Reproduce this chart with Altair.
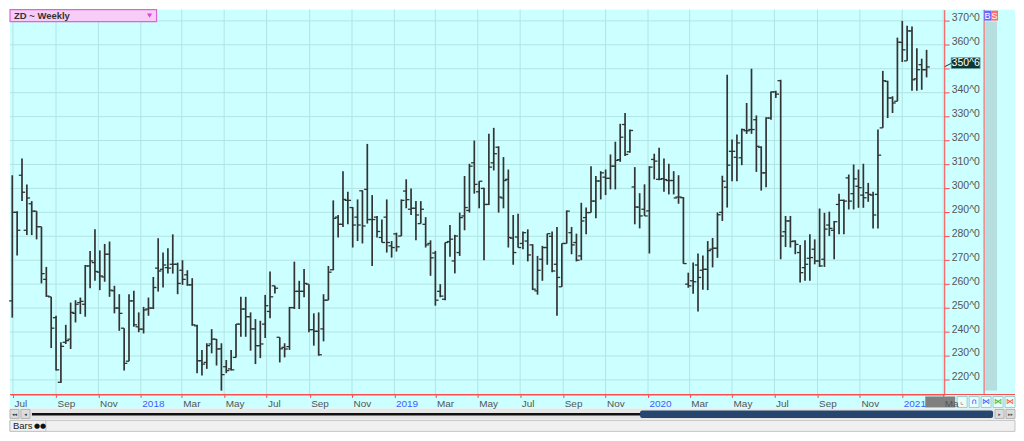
import altair as alt
import pandas as pd

# ---------------- data (weekly OHLC) ----------------
first_week = "2017-06-30"

opens = [
    253, 290, 305.5, 282.5, 293.6, 290.5, 284, 262, 254.7, 246,
    219, 235.7, 237, 247.8, 252.3, 251.6, 267.6, 269, 265, 263,
    272.5, 257.2, 250, 241.6, 227.8, 253, 242.2, 241.2, 249.6, 250,
    266.7, 266.2, 266.9, 268.3, 268.3, 265.8, 263.9, 259.7, 242.6, 228,
    227.3, 235, 237, 233, 225.5, 224.6, 229.4, 243.3, 249.6, 246.4,
    241.3, 234.3, 243.3, 248.6, 259.3, 237.8, 233.6, 233.9, 250.2, 257,
    257, 260, 241, 240.3, 241.3, 253.3, 266, 288, 285, 295,
    292, 288, 299, 299.6, 287, 288, 279.5, 288, 276, 281,
    280.1, 298.9, 291.3, 291.7, 285.3, 285, 277, 273, 257, 253.7,
    277.8, 269.7, 273.2, 288.5, 290.8, 310.7, 298.6, 300, 293.3, 310.7,
    317.2, 296, 303.8, 279.2, 279.7, 277, 278, 276.4, 257.2, 270.4,
    275.3, 280, 268.3, 258.9, 277, 281.5, 277.4, 271.8, 287.8, 289.9,
    294.7, 303.1, 304.7, 304.2, 309.3, 312, 326.7, 315.3, 300.6, 292.2,
    291.3, 290.6, 312.1, 303.8, 304.1, 303.3, 303.3, 296.4, 296.1, 260,
    261.4, 268, 265.8, 266.2, 274.6, 275, 290, 300.5, 315.5, 313,
    312.8, 324.1, 324.6, 328.7, 317.2, 306.5, 329.4, 340.3, 345, 281.9,
    286.4, 278, 273.2, 266.9, 270.8, 274.6, 269.7, 270.4, 284.7, 282.5,
    293.3, 295, 304.4, 297.8, 300.9, 297.2, 298.2, 297.2, 297.5, 325.3,
    344.7, 337.8, 336.4, 361, 353.3, 365.8, 345.8, 351.7, 349.6,
]
highs = [
    305.5, 290.5, 312.5, 301.6, 294.7, 290.5, 284, 267.2, 254.7, 246.8,
    235.7, 243, 252.3, 253.3, 254.4, 268, 273.9, 282.9, 274.1, 276.8,
    277.8, 259.3, 255.8, 241.6, 255.8, 257.2, 248.2, 250.5, 254.4, 263,
    279.2, 273.2, 275, 280.8, 269, 270, 265.8, 262.5, 243, 232.5,
    235.3, 241.2, 237.1, 235.3, 228.3, 232.5, 243.3, 254.7, 254.7, 248.2,
    245.4, 244.7, 255.5, 265.3, 259.3, 237.8, 235.3, 250.5, 269.4, 261.4,
    266.3, 260, 247.8, 248.2, 255.8, 267.6, 295, 288.9, 307.2, 298.6,
    292.2, 295.4, 299.2, 318.6, 297.2, 288.5, 287, 295.4, 278, 281.5,
    295.4, 303.8, 300, 294.7, 294.7, 288, 278.3, 273.9, 260, 277.4,
    284.7, 280.6, 289.9, 305.2, 310.3, 320, 303, 300.3, 322.8, 325.3,
    317.6, 313.1, 307.9, 288.9, 289.4, 282, 282.9, 276.7, 271.8, 276,
    281.1, 282, 283.9, 277, 290.8, 283.9, 281.1, 294, 292, 309.3,
    305.2, 307.2, 307.9, 314.2, 319.5, 327, 331.5, 324.6, 308.9, 298,
    301.7, 309.3, 314.5, 317, 312.5, 310.3, 307.2, 305.5, 296.4, 264.8,
    269, 272.8, 272, 278, 279.3, 290, 305.3, 347.5, 320.4, 322.5,
    325, 335.7, 350, 330.5, 317.6, 329.7, 340.5, 340.8, 345.4, 288.5,
    288.5, 278.3, 276.4, 278.3, 280.8, 278.7, 291.6, 289.8, 290.3, 286.4,
    297.8, 295.4, 305.8, 310, 307.9, 310.3, 302.3, 298.6, 324.6, 349.1,
    345, 338.5, 363, 370, 368, 367.6, 358.6, 354.2, 357.9,
]
lows = [
    246, 272, 294.7, 280.5, 280.5, 278.7, 260.3, 254.7, 233.3, 223.9,
    218.7, 235, 232.9, 244, 247.5, 246.4, 258.3, 261.4, 257.5, 261,
    254.7, 247.8, 240.5, 223.9, 227.8, 242.2, 239.9, 239.4, 246.8, 249.6,
    256.9, 258.6, 264.4, 264.4, 255.8, 259.7, 259.3, 242.6, 222.8, 221.8,
    224.6, 231.1, 226, 215.5, 222.8, 223.9, 229.4, 238, 238, 232.2,
    226.6, 229.1, 237.5, 245.8, 256.1, 227.3, 229.4, 232.5, 249.6, 249.6,
    254.5, 239.9, 234.3, 230.1, 236.1, 253.3, 265.8, 279.5, 283.9, 285,
    275.3, 278, 277, 285.3, 267.6, 279.5, 277.4, 273.2, 271.1, 273.6,
    280.1, 291.7, 288.9, 278.3, 285.3, 275.3, 263.5, 251, 254.5, 253.3,
    271.4, 264.5, 271.8, 282.5, 289.9, 297.8, 291.7, 270, 293.1, 307.5,
    289.9, 291.7, 275.3, 268.1, 275.3, 274.6, 269.5, 257.5, 255.6, 261.4,
    268.1, 265, 246.8, 258.9, 277, 272.5, 269.5, 270, 280.8, 289.9,
    287.5, 295.4, 297.2, 299.6, 299.6, 311.1, 313.5, 314.9, 285, 283.3,
    288.5, 272.8, 303.8, 303.4, 298.6, 297.5, 297.5, 293.6, 268.5, 258.5,
    256, 248.6, 257.7, 257.5, 267, 271, 286.4, 292, 303, 303,
    309.7, 322.8, 322.8, 306.9, 299.1, 300.5, 328.7, 337.8, 270.4, 275.5,
    275.3, 272.5, 260.7, 261.4, 261.4, 268.3, 267.2, 267.2, 280.1, 270.4,
    280.8, 280.8, 291.2, 291.2, 291.9, 291.9, 294.4, 283.3, 283.3, 325.3,
    329.4, 331.5, 336.4, 352.8, 353.3, 340.8, 340.8, 341.2, 346.4,
]
closes = [
    290, 282.5, 298.4, 296, 290.5, 284, 264.4, 255, 241.6, 224.2,
    234, 236.4, 248.2, 251.6, 252.8, 267.6, 269.7, 265.3, 263.4, 272.5,
    257.5, 250, 247.8, 226.9, 253, 243, 241.2, 249.2, 250, 258.6,
    265.5, 268, 266.7, 268.3, 260.3, 262, 259.7, 243, 228, 226.6,
    234.3, 237, 232.9, 222.2, 223.9, 224.2, 243.3, 249.6, 246.4, 241.3,
    234.3, 235, 251, 254.7, 258.3, 233, 232.9, 250.2, 257, 257,
    260.3, 241, 240.3, 230.5, 253.3, 265, 287.5, 285, 295.4, 295,
    284.7, 284.7, 284.3, 287, 287, 282, 277.4, 277.4, 275.3, 275.6,
    295, 295.3, 291.7, 288.9, 291.3, 276.4, 271, 253.3, 255, 277.4,
    278.8, 280.1, 287.8, 292, 309.3, 301.7, 303, 293.3, 308.9, 314.5,
    296.4, 303.3, 279.5, 273.2, 275.3, 281.5, 272.2, 257.9, 265.8, 275.3,
    281.1, 265.5, 262.8, 277, 290.5, 276.4, 270, 286.4, 289.9, 294.7,
    303.1, 306.5, 304.2, 309.3, 311.7, 321.4, 314.2, 324.2, 292.2, 288.5,
    288.5, 308.9, 311.4, 303.8, 303.7, 303.3, 296, 296.4, 268.6, 259.3,
    261, 262.8, 266.2, 274, 275, 289, 303, 309.7, 315.5, 319,
    324.6, 324.1, 324.6, 317.6, 306.5, 329.4, 340.3, 339.4, 280.1, 286.4,
    277.8, 276.6, 264.8, 268.3, 271.1, 269.7, 267.6, 283, 283.3, 286.1,
    295, 294.7, 294.7, 304, 300.3, 296.1, 297.5, 288.9, 313.9, 345,
    337.8, 335.7, 361.1, 357.9, 365.8, 345.4, 349.6, 349.6, 350.75,
]

tick_months = [
    "2017-07-01", "2017-09-01", "2017-11-01", "2018-01-01", "2018-03-01",
    "2018-05-01", "2018-07-01", "2018-09-01", "2018-11-01", "2019-01-01",
    "2019-03-01", "2019-05-01", "2019-07-01", "2019-09-01", "2019-11-01",
    "2020-01-01", "2020-03-01", "2020-05-01", "2020-07-01", "2020-09-01",
    "2020-11-01", "2021-01-01", "2021-03-01",
]
price_ticks = [220, 230, 240, 250, 260, 270, 280, 290, 300, 310, 320, 330,
               340, 350, 360, 370]
last_price = 350.75
last_label = "350^6"
chart_title = "ZD ~ Weekly"

# ---------------- styling ----------------
W, H = 937, 386
BG = "#ccffff"
GRID = "#b2e4e4"
RED = "#ff4a4a"
BAR = "#333333"
FONT = "Liberation Sans"

dates = pd.date_range(first_week, periods=len(opens), freq="7D")
bars = pd.DataFrame({"date": dates, "open": opens, "high": highs,
                     "low": lows, "close": closes})
one = pd.DataFrame({"k": [0]})


def dt(s):
    return alt.DateTime(year=int(s[:4]), month=int(s[5:7]), date=int(s[8:10]))


xscale = alt.Scale(domain=[alt.DateTime(year=2017, month=6, date=26, hours=17),
                           alt.DateTime(year=2021, month=3, date=2, hours=9)],
                   nice=False)
yscale = alt.Scale(domain=[213.9, 374.7], zero=False, nice=False)

# the last month label is clipped to "Ma" by the button strip, as in the reference
xaxis = alt.Axis(
    values=[dt(s) for s in tick_months],
    labelExpr=("year(datum.value) == 2021 && month(datum.value) == 2 ? 'Ma' : "
               "(month(datum.value) == 0 ? timeFormat(datum.value, '%Y') : timeFormat(datum.value, '%b'))"),
    labelColor={"condition": {"test": "month(datum.value) == 0", "value": "#3b5cff"},
                "value": "#555555"},
    labelAlign="left", labelBaseline="top", labelPadding=1, labelOffset=1,
    labelFont=FONT, labelFontSize=10, labelOverlap=False, labelFlush=False,
    labelBound=False, tickColor=RED, tickSize=3, domainColor=RED, grid=False,
    zindex=1,
)
yaxis = alt.Axis(
    orient="right", values=price_ticks,
    labelExpr="datum.value == 350 ? '' : datum.value + '^0'",
    labelBaseline="alphabetic", labelAlign="left", labelPadding=2,
    labelColor="#555555", labelFont=FONT, labelFontSize=10.5,
    labelOverlap=False, labelFlush=False, labelBound=False,
    tickColor=RED, tickSize=5, domainColor=RED, grid=False, zindex=1,
)


def X(field):
    return alt.X(field, scale=xscale, axis=xaxis, title=None)


def Y(field):
    return alt.Y(field, scale=yscale, axis=yaxis, title=None)


def rect(x, x2, y, y2, **kw):
    return alt.Chart(one).mark_rect(**kw).encode(
        x=alt.value(x), x2=alt.value(x2), y=alt.value(y), y2=alt.value(y2))


def line(x, x2, y, y2, **kw):
    return alt.Chart(one).mark_rule(**kw).encode(
        x=alt.value(x), x2=alt.value(x2), y=alt.value(y), y2=alt.value(y2))


def text(x, y, s, **kw):
    base = dict(font=FONT, baseline="middle", align="left")
    base.update(kw)
    return alt.Chart(one).mark_text(text=s, **base).encode(
        x=alt.value(x), y=alt.value(y))


layers = []

# backgrounds outside the plot area
layers.append(rect(W, 1008, 0, H, color=BG))
layers.append(rect(978, 990, 12, 382, color="#b6dede"))
layers.append(rect(0, 1008, H, 400, color=BG))

# grid
layers.append(alt.Chart(pd.DataFrame({"t": pd.to_datetime(tick_months)}))
              .mark_rule(color=GRID, strokeWidth=1).encode(x=X("t:T")))
layers.append(alt.Chart(pd.DataFrame({"v": price_ticks}))
              .mark_rule(color=GRID, strokeWidth=1).encode(y=Y("v:Q")))

# OHLC bars
layers.append(alt.Chart(bars).mark_rule(color=BAR, strokeWidth=1.7).encode(
    x=X("date:T"), y=Y("low:Q"), y2="high:Q"))
layers.append(alt.Chart(bars).mark_rule(color=BAR, strokeWidth=1.3, xOffset=-3.2, x2Offset=0).encode(
    x=X("date:T"), x2="date:T", y=Y("open:Q")))
layers.append(alt.Chart(bars).mark_rule(color=BAR, strokeWidth=1.3, xOffset=0, x2Offset=3.2).encode(
    x=X("date:T"), x2="date:T", y=Y("close:Q")))

# frame lines
layers.append(line(0, 1008, H, H, color=RED, strokeWidth=1))
layers.append(line(977, 977, 0, H, color=RED, strokeWidth=1))

# title box
layers.append(rect(0, 147, 0, 12, fill="#f7cdf7", stroke="#e060e0", strokeWidth=1.2))
layers.append(text(4, 6.5, chart_title, fontSize=9.5, fontWeight="bold", color="#333333"))
layers.append(alt.Chart(one).mark_point(shape="triangle-down", filled=True, size=26,
                                         color="#e040e0", opacity=1).encode(
    x=alt.value(140), y=alt.value(6)))

# B / S markers
layers.append(rect(977, 984, 1, 11, color="#6868ff"))
layers.append(rect(984, 991, 1, 11, color="#ff6b6b"))
layers.append(text(980.5, 6.5, "B", fontSize=9, color="white", align="center"))
layers.append(text(987.5, 6.5, "S", fontSize=9, color="white", align="center"))

# last price marker
layers.append(alt.Chart(one).mark_rule(color="#0d3636", strokeWidth=1).encode(
    x=alt.value(937), x2=alt.value(944),
    y=alt.YDatum(last_price, scale=yscale, axis=yaxis, title=None),
    y2=alt.datum(last_price + 1.5)))
layers.append(alt.Chart(one).mark_rect(fill="#0d3636", stroke="#6fa8a8", strokeWidth=0.8,
                                        yOffset=-5.5, y2Offset=5.5).encode(
    x=alt.value(944), x2=alt.value(973),
    y=alt.YDatum(last_price + 1.6, scale=yscale, axis=yaxis, title=None),
    y2=alt.datum(last_price + 1.6)))
layers.append(alt.Chart(one).mark_text(text=last_label, font=FONT, fontSize=10.5,
                                        color="white", align="center", baseline="middle").encode(
    x=alt.value(958.5),
    y=alt.YDatum(last_price + 1.6, scale=yscale, axis=yaxis, title=None)))

# bottom right box and buttons
layers.append(rect(918, 948, 388, 399, color="#808080"))
btn_glyphs = ["⌞", "∩", "⋈", "⋈", "⋈"]
btn_colors = ["#ff3030", "#2040ff", "#2060ff", "#20b040", "#ff4040"]
for k, (g, c) in enumerate(zip(btn_glyphs, btn_colors)):
    x0 = 950 + 12 * k
    layers.append(rect(x0, x0 + 10, 388, 399, fill="#e8ffff", stroke="#9ccccc", strokeWidth=1))
    layers.append(text(x0 + 5, 393.5, g, fontSize=8, color=c, align="center", font="DejaVu Sans"))

# scroll bar row
layers.append(rect(0, 1008, 400, 411, color="#e6e6e6"))
layers.append(rect(0, 9, 401, 410, fill="#dcdcdc", stroke="#b5b5b5", strokeWidth=1))
layers.append(rect(11, 20, 401, 410, fill="#dcdcdc", stroke="#b5b5b5", strokeWidth=1))
layers.append(text(4.5, 405.5, "◂◂", fontSize=5, color="#333333", align="center", font="DejaVu Sans"))
layers.append(text(15.5, 405.5, "◂", fontSize=5, color="#333333", align="center", font="DejaVu Sans"))
layers.append(rect(22, 634, 404.5, 407, color="#111111"))
layers.append(rect(632, 986, 402, 409.5, color="#26466f", cornerRadius=2))
layers.append(rect(988, 997, 401, 410, fill="#dcdcdc", stroke="#b5b5b5", strokeWidth=1))
layers.append(rect(999, 1008, 401, 410, fill="#dcdcdc", stroke="#b5b5b5", strokeWidth=1))
layers.append(text(992.5, 405.5, "▸", fontSize=5, color="#555555", align="center", font="DejaVu Sans"))
layers.append(text(1003.5, 405.5, "▸▸", fontSize=5, color="#555555", align="center", font="DejaVu Sans"))

# status bar
layers.append(rect(0, 1008, 412, 423, fill="#f0f0f0", stroke="#c4c4c4", strokeWidth=1))
layers.append(rect(0, 36, 412, 423, fill="#f0f0f0", stroke="#c4c4c4", strokeWidth=1))
layers.append(text(3, 417.5, "Bars", fontSize=9.5, color="#222222"))
layers.append(text(24, 417.5, "●●", fontSize=7, color="#111111", font="DejaVu Sans"))

chart = (
    alt.layer(*layers)
    .properties(width=W, height=H, padding=0)
    .configure_view(fill=BG, strokeWidth=0)
)

chart.save("out.html", embed_options={"renderer": "svg", "actions": False})
